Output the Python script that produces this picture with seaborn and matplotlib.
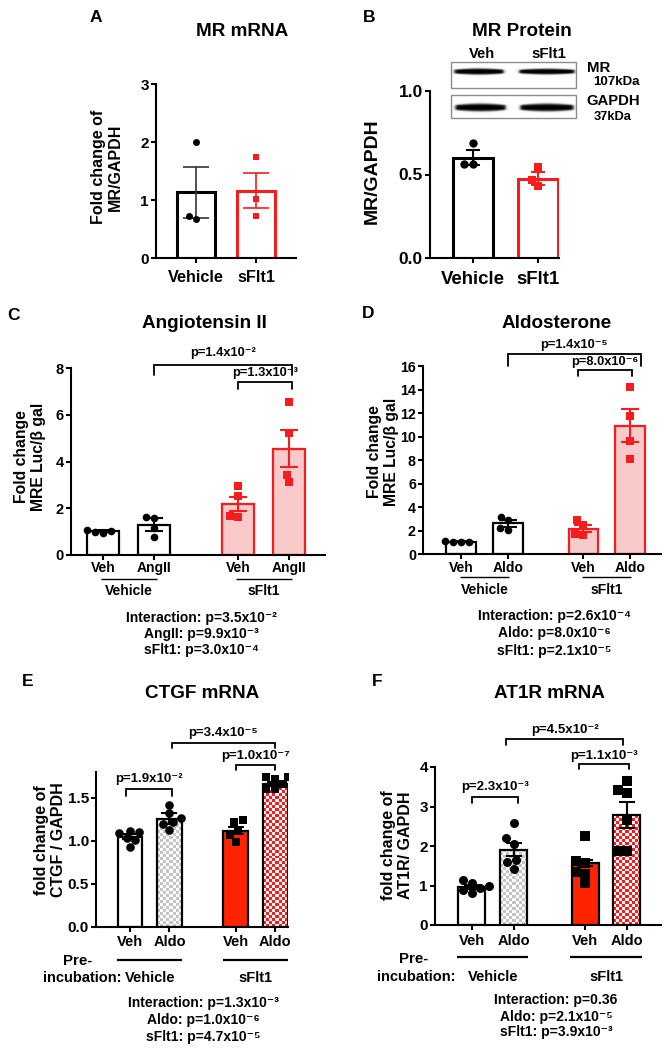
import warnings
warnings.filterwarnings("ignore")
import numpy as np
import pandas as pd
import matplotlib
matplotlib.use("Agg")
import matplotlib.pyplot as plt
import matplotlib.transforms as mtransforms
from matplotlib.patches import Rectangle
from matplotlib.colors import ListedColormap
import seaborn as sns

sns.set_theme(style="ticks")
plt.rcParams["font.family"] = ["Liberation Sans", "DejaVu Sans"]
plt.rcParams["font.weight"] = "bold"
plt.rcParams["axes.labelweight"] = "bold"
plt.rcParams["axes.edgecolor"] = "black"
plt.rcParams["xtick.color"] = "black"
plt.rcParams["ytick.color"] = "black"
plt.rcParams["text.color"] = "black"

# ======================= data =======================
# A: MR mRNA
A_groups = ["Vehicle", "sFlt1"]
A_mean = [1.13, 1.16]
A_sem = [0.44, 0.30]
A_pts = [[2.00, 0.67, 0.72], [1.75, 1.01, 0.72]]

# B: MR protein
B_groups = ["Vehicle", "sFlt1"]
B_mean = [0.60, 0.475]
B_sem = [0.045, 0.040]
B_pts = [[0.69, 0.565, 0.56], [0.545, 0.465, 0.43]]

# C: Angiotensin II
C_labels = ["Veh", "AngII", "Veh", "AngII"]
C_groups = ["Vehicle", "sFlt1"]
C_mean = [1.01, 1.29, 2.18, 4.55]
C_sem = [0.04, 0.28, 0.31, 0.80]
C_pts = [[0.95, 1.08, 1.03, 1.00], [1.63, 1.60, 0.78, 1.15],
         [2.95, 2.52, 1.61, 1.67], [6.55, 5.20, 3.13, 3.44]]
C_pvals = ["p=1.4x10⁻²", "p=1.3x10⁻³"]
C_stats = ["Interaction: p=3.5x10⁻²", "AngII: p=9.9x10⁻³", "sFlt1: p=3.0x10⁻⁴"]

# D: Aldosterone
D_labels = ["Veh", "Aldo", "Veh", "Aldo"]
D_groups = ["Vehicle", "sFlt1"]
D_mean = [1.04, 2.60, 2.15, 10.90]
D_sem = [0.04, 0.30, 0.30, 1.40]
D_pts = [[1.00, 1.10, 1.05, 1.00], [2.90, 3.18, 2.04, 2.18],
         [2.44, 2.90, 1.62, 1.70], [14.24, 11.74, 9.62, 8.06]]
D_pvals = ["p=1.4x10⁻⁵", "p=8.0x10⁻⁶"]
D_stats = ["Interaction: p=2.6x10⁻⁴", "Aldo: p=8.0x10⁻⁶", "sFlt1: p=2.1x10⁻⁵"]

# E: CTGF mRNA
E_labels = ["Veh", "Aldo", "Veh", "Aldo"]
E_groups = ["Vehicle", "sFlt1"]
E_mean = [1.047, 1.26, 1.12, 1.66]
E_sem = [0.03, 0.06, 0.045, 0.025]
E_pts = [[1.09, 1.10, 1.12, 0.93, 1.03, 1.01], [1.42, 1.32, 1.27, 1.22, 1.13, 1.20],
         [1.24, 1.22, 1.13, 0.99, 1.07], [1.74, 1.74, 1.72, 1.60, 1.60, 1.66]]
E_pvals = ["p=1.9x10⁻²", "p=3.4x10⁻⁵", "p=1.0x10⁻⁷"]
E_stats = ["Interaction: p=1.3x10⁻³", "Aldo: p=1.0x10⁻⁶", "sFlt1: p=4.7x10⁻⁵"]

# F: AT1R mRNA
F_labels = ["Veh", "Aldo", "Veh", "Aldo"]
F_groups = ["Vehicle", "sFlt1"]
F_mean = [0.97, 1.91, 1.57, 2.78]
F_sem = [0.05, 0.17, 0.07, 0.33]
F_pts = [[1.07, 1.14, 0.88, 0.82, 0.93, 0.98], [2.57, 2.19, 2.06, 1.43, 1.60, 1.65],
         [2.25, 1.62, 1.58, 1.30, 1.33, 1.07], [3.65, 3.41, 3.35, 1.88, 1.88, 2.65]]
F_pvals = ["p=2.3x10⁻³", "p=4.5x10⁻²", "p=1.1x10⁻³"]
F_stats = ["Interaction: p=0.36", "Aldo: p=2.1x10⁻⁵", "sFlt1: p=3.9x10⁻³"]

# ======================= layout helpers =======================
W, H = 672, 1050
fig = plt.figure(figsize=(W / 100, H / 100), dpi=100)
RED = "#f81c1c"
PINK = "#fac9c9"


def fx(x):
    return x / W


def fy(y):
    return 1 - y / H


def add_ax(left, top, right, bottom):
    ax = fig.add_axes([left / W, 1 - bottom / H, (right - left) / W, (bottom - top) / H])
    ax.patch.set_alpha(0)
    return ax


def ftext(x, y, s, fs, **kw):
    kw.setdefault("ha", "center")
    kw.setdefault("va", "center")
    fig.text(fx(x), fy(y), s, fontsize=fs, fontweight="bold", **kw)


def bar_panel(box, pos, means, sems, pts, xlim, ylim, yticks, yticklabels, width,
              faces, edges, err_colors, markers, pt_colors, pt_size, bar_lw, err_lw,
              capsize, tick_fs, spine_lw=1.5):
    ax = add_ax(*box)
    df = pd.DataFrame({"pos": pos, "mean": means})
    sns.barplot(data=df, x="pos", y="mean", native_scale=True, orient="x", width=width,
                errorbar=None, color="white", linewidth=bar_lw, edgecolor="black",
                ax=ax, zorder=2)
    bars = list(ax.patches)
    for b, fc, ec in zip(bars, faces, edges):
        b.set_facecolor(fc)
        b.set_edgecolor(ec)
    for x, m, s, c in zip(pos, means, sems, err_colors):
        ax.errorbar([x], [m], yerr=[s], fmt="none", ecolor=c, elinewidth=err_lw,
                    capsize=capsize, capthick=err_lw, zorder=3)
    for x, vals, mk, c in zip(pos, pts, markers, pt_colors):
        sns.swarmplot(x=[x] * len(vals), y=vals, native_scale=True, orient="x",
                      marker=mk, color=c, size=pt_size, linewidth=0, ax=ax, zorder=4,
                      warn_thresh=1.0)
    ax.set_xlim(xlim)
    ax.set_ylim(ylim)
    ax.set_yticks(yticks)
    ax.set_yticklabels(yticklabels, fontsize=tick_fs, fontweight="bold")
    ax.set_xticks(pos)
    ax.set_xticklabels([])
    ax.set_xlabel("")
    ax.set_ylabel("")
    sns.despine(ax=ax)
    for s in ["left", "bottom"]:
        ax.spines[s].set_linewidth(spine_lw)
    ax.tick_params(axis="both", direction="out", length=3.6, width=spine_lw, pad=1.5)
    return ax, bars


def xlabels(ax, pos, labels, y, fs):
    tr = mtransforms.blended_transform_factory(ax.transData, fig.transFigure)
    for x, l in zip(pos, labels):
        ax.text(x, fy(y), l, transform=tr, ha="center", va="center", fontsize=fs,
                fontweight="bold", clip_on=False)


def groups_axis(ax, pos, groups, line_y, group_y, half, fs, lw):
    tr = mtransforms.blended_transform_factory(ax.transData, fig.transFigure)
    for (i, j), g in zip([(0, 1), (2, 3)], groups):
        c = (pos[i] + pos[j]) / 2
        ax.plot([c - half, c + half], [fy(line_y)] * 2, transform=tr, color="black",
                lw=lw, clip_on=False, solid_capstyle="butt")
        ax.text(c, fy(group_y), g, transform=tr, ha="center", va="center", fontsize=fs,
                fontweight="bold", clip_on=False)


def bracket(ax, x0, x1, y_line, drop, text, text_y, fs, lw=1.3):
    tr = mtransforms.blended_transform_factory(ax.transData, fig.transFigure)
    ax.plot([x0, x0, x1, x1], [fy(y_line + drop), fy(y_line), fy(y_line), fy(y_line + drop)],
            transform=tr, color="black", lw=lw, clip_on=False, solid_joinstyle="miter")
    ax.text((x0 + x1) / 2, fy(text_y), text, transform=tr, ha="center", va="center",
            fontsize=fs, fontweight="bold", clip_on=False)


def checker(ax, patch, color, cell_px=3.0):
    x0, w, h = patch.get_x(), patch.get_width(), patch.get_height()
    p0 = ax.transData.transform((x0, 0))
    p1 = ax.transData.transform((x0 + w, h))
    nx = max(1, int(round((p1[0] - p0[0]) / cell_px)))
    ny = max(1, int(round((p1[1] - p0[1]) / cell_px)))
    arr = np.add.outer(np.arange(ny), np.arange(nx)) % 2
    im = ax.imshow(arr, extent=(x0, x0 + w, 0, h), cmap=ListedColormap(["white", color]),
                   interpolation="nearest", aspect="auto", origin="lower", zorder=2.05)
    im.set_clip_path(patch)
    patch.set_facecolor("none")
    patch.set_zorder(2.1)


def stats_block(lines, x, ys, fs):
    for s, y in zip(lines, ys):
        ftext(x, y, s, fs)


# ======================= Panel A =======================
A_pos = [0, 1]
axA, _ = bar_panel((156, 84, 296, 258), A_pos, A_mean, A_sem, A_pts, (-0.667, 1.667), (0, 3),
                   [0, 1, 2, 3], ["0", "1", "2", "3"], 0.63, ["white", "white"], ["black", RED],
                   ["#333333", RED], ["o", "s"], ["black", RED], 5.0, 2.2, 1.2, 9.5, 11)
xlabels(axA, A_pos, A_groups, 277, 11.7)
ftext(96, 17, "A", 12.5)
ftext(242, 32, "MR mRNA", 13.6)
ftext(107, 167, "Fold change of\nMR/GAPDH", 11.5, rotation=90, multialignment="center",
      linespacing=1.15)

# ======================= Panel B =======================
B_pos = [0, 1]
axB, _ = bar_panel((430, 91, 559, 258), B_pos, B_mean, B_sem, B_pts, (-0.66, 1.32), (0, 1.0),
                   [0, 0.5, 1.0], ["0.0", "0.5", "1.0"], 0.62, ["white", "white"], ["black", RED],
                   ["black", RED], ["o", "s"], ["black", RED], 6.0, 2.2, 1.5, 4.7, 12.5)
xlabels(axB, B_pos, B_groups, 279, 13.4)
ftext(369, 17, "B", 12.5)
ftext(522, 32, "MR Protein", 13.6)
ftext(372, 171, "MR/GAPDH", 14, rotation=90)

# western blot inset (illustration)
blot = add_ax(445, 50, 585, 125)
blot.set_axis_off()


def band_image(x0, x1, y0, y1, bands, res=4):
    xs = np.linspace(x0, x1, int((x1 - x0) * res))
    ys = np.linspace(y0, y1, int((y1 - y0) * res))
    X, Y = np.meshgrid(xs, ys)
    img = np.zeros_like(X)
    for bx0, bx1, yc, thick in bands:
        t = np.clip((X - bx0) / (bx1 - bx0), 0, 1)
        inside = 1 / (1 + np.exp(-(X - bx0) * 1.0)) / (1 + np.exp((X - bx1) * 1.0))
        half = thick * (0.65 + 0.35 * np.sin(np.pi * t))
        img += inside * np.exp(-((Y - yc) / half) ** 4)
    return np.clip(img, 0, 1)


for (bx0, by0, bx1, by1), bands in [
    ((451, 62, 576, 88), [(454, 504, 71.5, 3.4), (519, 575, 71.5, 3.2)]),
    ((451, 95, 576, 118), [(455, 506, 107.5, 4.3), (520, 574, 107.5, 4.3)]),
]:
    img = band_image(bx0, bx1, by0, by1, bands)
    blot.imshow(img, extent=(bx0, bx1, by1, by0), origin="upper", cmap="Greys", vmin=0,
                vmax=1.0, aspect="auto", interpolation="bilinear")
    blot.add_patch(Rectangle((bx0, by0), bx1 - bx0, by1 - by0, fill=False,
                             edgecolor="#8c8c8c", lw=1.0))
blot.set_xlim(445, 585)
blot.set_ylim(125, 50)
ftext(482, 54, "Veh", 10.5)
ftext(549, 54, "sFlt1", 10.8)
ftext(599, 68, "MR", 10.8)
ftext(616, 82, "107kDa", 9.5)
ftext(613, 101, "GAPDH", 10.7)
ftext(613, 117, "37kDa", 9.3)

# ======================= Panel C =======================
C_pos = [0, 1, 2.65, 3.65]
axC, _ = bar_panel((71, 368, 325, 555), C_pos, C_mean, C_sem, C_pts, (-0.63, 4.35), (0, 8),
                   [0, 2, 4, 6, 8], ["0", "2", "4", "6", "8"], 0.63,
                   ["white", "white", PINK, PINK], ["black", "black", RED, RED],
                   ["black", "black", RED, RED], ["o", "o", "s", "s"],
                   ["black", "black", RED, RED], 5.5, 1.6, 1.5, 6.5, 10.5)
xlabels(axC, C_pos, C_labels, 568, 10)
groups_axis(axC, C_pos, C_groups, 579, 591, 0.55, 10, 1.0)
bracket(axC, C_pos[1], C_pos[3] + 0.05, 365, 10, C_pvals[0], 353, 9.3)
bracket(axC, C_pos[2], C_pos[3] + 0.05, 382, 7, C_pvals[1], 373, 9.3)
stats_block(C_stats, 201, [618, 634, 650], 10)
ftext(14, 315, "C", 12.5)
ftext(204, 324, "Angiotensin II", 13.6)
ftext(30, 457, "Fold change\nMRE Luc/β gal", 11.3, rotation=90, multialignment="center",
      linespacing=1.1)

# ======================= Panel D =======================
D_pos = [0, 1, 2.6, 3.6]
axD, _ = bar_panel((423, 366, 661, 554), D_pos, D_mean, D_sem, D_pts, (-0.81, 4.26), (0, 16),
                   list(range(0, 17, 2)), [str(v) for v in range(0, 17, 2)], 0.62,
                   ["white", "white", PINK, PINK], ["black", "black", RED, RED],
                   ["black", "black", RED, RED], ["o", "o", "s", "s"],
                   ["black", "black", RED, RED], 5.5, 1.6, 1.5, 6.5, 10.3)
xlabels(axD, D_pos, D_labels, 568, 10)
groups_axis(axD, D_pos, D_groups, 577, 590, 0.52, 10, 1.0)
bracket(axD, D_pos[1], D_pos[3] + 0.23, 354, 12, D_pvals[0], 345, 9.3)
bracket(axD, D_pos[2] - 0.1, D_pos[3] + 0.04, 370, 6, D_pvals[1], 362, 9.3)
stats_block(D_stats, 554, [616, 633, 651], 10)
ftext(368, 314, "D", 12.5)
ftext(557, 323, "Aldosterone", 13.6)
ftext(383, 452, "Fold change\nMRE Luc/β gal", 11.3, rotation=90, multialignment="center",
      linespacing=1.1)

# ======================= Panel E =======================
E_pos = [0, 1, 2.68, 3.68]
axE, barsE = bar_panel((96, 772, 288, 927), E_pos, E_mean, E_sem, E_pts, (-0.86, 4.0), (0, 1.8),
                       [0, 0.5, 1.0, 1.5], ["0.0", "0.5", "1.0", "1.5"], 0.63,
                       ["white", "white", "#ff2400", "white"], ["black"] * 4, ["black"] * 4,
                       ["o", "o", "s", "s"], ["black"] * 4, 6.2, 1.6, 1.5, 5.5, 11)
checker(axE, barsE[1], "#c4c4c4")
checker(axE, barsE[3], "#ff1a1a")
xlabels(axE, E_pos, E_labels, 942, 10.5)
groups_axis(axE, E_pos, E_groups, 960, 978, 0.82, 10.5, 1.6)
bracket(axE, E_pos[0] - 0.1, E_pos[1] + 0.06, 789, 7, E_pvals[0], 779, 9.5)
bracket(axE, E_pos[1] + 0.06, E_pos[3] - 0.01, 743, 5, E_pvals[1], 733, 9.5)
bracket(axE, E_pos[2], E_pos[3] - 0.01, 765, 5, E_pvals[2], 756, 9.5)
stats_block(E_stats, 203, [1003, 1020, 1037], 10)
ftext(78, 961, "Pre-", 10.8)
ftext(82, 978, "incubation:", 10.5)
ftext(28, 681, "E", 12.5)
ftext(202, 693, "CTGF mRNA", 13.6)
ftext(50, 840, "fold change of\nCTGF / GAPDH", 11.5, rotation=90, multialignment="center",
      linespacing=1.1)

# ======================= Panel F =======================
F_pos = [0, 1, 2.73, 3.73]
axF, barsF = bar_panel((435, 767, 661, 925), F_pos, F_mean, F_sem, F_pts, (-0.89, 4.55), (0, 4),
                       [0, 1, 2, 3, 4], ["0", "1", "2", "3", "4"], 0.65,
                       ["white", "white", "#ff2400", "white"], ["black"] * 4, ["black"] * 4,
                       ["o", "o", "s", "s"], ["black"] * 4, 6.5, 1.6, 1.5, 5.5, 11)
checker(axF, barsF[1], "#c4c4c4")
checker(axF, barsF[3], "#ff1a1a")
xlabels(axF, F_pos, F_labels, 941, 10.5)
groups_axis(axF, F_pos, F_groups, 957, 977, 0.86, 10.5, 1.6)
bracket(axF, F_pos[0], F_pos[1] + 0.1, 797, 6, F_pvals[0], 787, 9.5)
bracket(axF, F_pos[0] + 0.82, F_pos[3] - 0.09, 739, 6, F_pvals[1], 730, 9.5)
bracket(axF, F_pos[2] - 0.15, F_pos[3] + 0.05, 764, 5, F_pvals[2], 756, 9.5)
stats_block(F_stats, 556, [1000, 1017, 1032], 10)
ftext(414, 959, "Pre-", 10.8)
ftext(416, 977, "incubation:", 10.5)
ftext(377, 681, "F", 12.5)
ftext(549, 693, "AT1R mRNA", 13.6)
ftext(397, 845, "fold change of\nAT1R/ GAPDH", 11.5, rotation=90, multialignment="center",
      linespacing=1.1)

fig.savefig("out.png", dpi=100, facecolor="white")
